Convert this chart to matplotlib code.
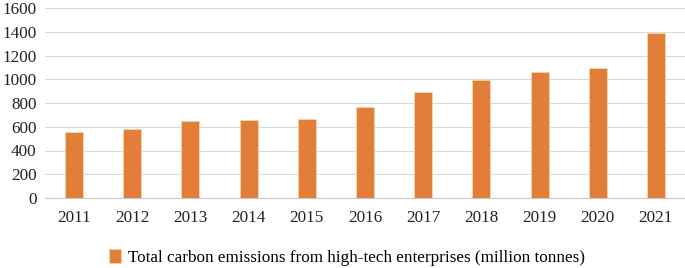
import numpy as np
import matplotlib.pyplot as plt

# Donnees
years = ['2011', '2012', '2013', '2014', '2015', '2016', '2017', '2018', '2019', '2020', '2021']
emissions = [558, 577, 645, 654, 662, 766, 889, 997, 1061, 1095, 1386]
label = 'Total carbon emissions from high-tech enterprises (million tonnes)'

plt.rcParams['font.family'] = ['Liberation Serif', 'DejaVu Serif']

fig = plt.figure(figsize=(6.85, 2.68), dpi=100)
ax = fig.add_axes([45/685, 70/268, 640/685, 190/268])

x = np.arange(len(years))
ax.bar(x, emissions, width=0.31, color='#E27D3A', edgecolor='#EFD9A8',
       linewidth=0.6, label=label, zorder=3)

ax.set_xlim(-0.5, len(years) - 0.5)
ax.set_ylim(0, 1600)
ax.set_yticks(range(0, 1601, 200))
ax.set_xticks(x)
ax.set_xticklabels(years)
ax.yaxis.grid(True, color='#D9D9D9', linewidth=0.8, zorder=0)

for s in ['left', 'right', 'top']:
    ax.spines[s].set_visible(False)
ax.spines['bottom'].set_color('#C8C8C8')
ax.tick_params(axis='both', length=0, labelsize=12.3, colors='#222222')
ax.tick_params(axis='x', pad=9)
ax.tick_params(axis='y', pad=6)

fig.legend(loc='center', bbox_to_anchor=(0.507, 0.04), frameon=False,
           fontsize=12.3, handlelength=0.7, handleheight=0.9, handletextpad=0.4)

fig.savefig('out.png', dpi=100)
